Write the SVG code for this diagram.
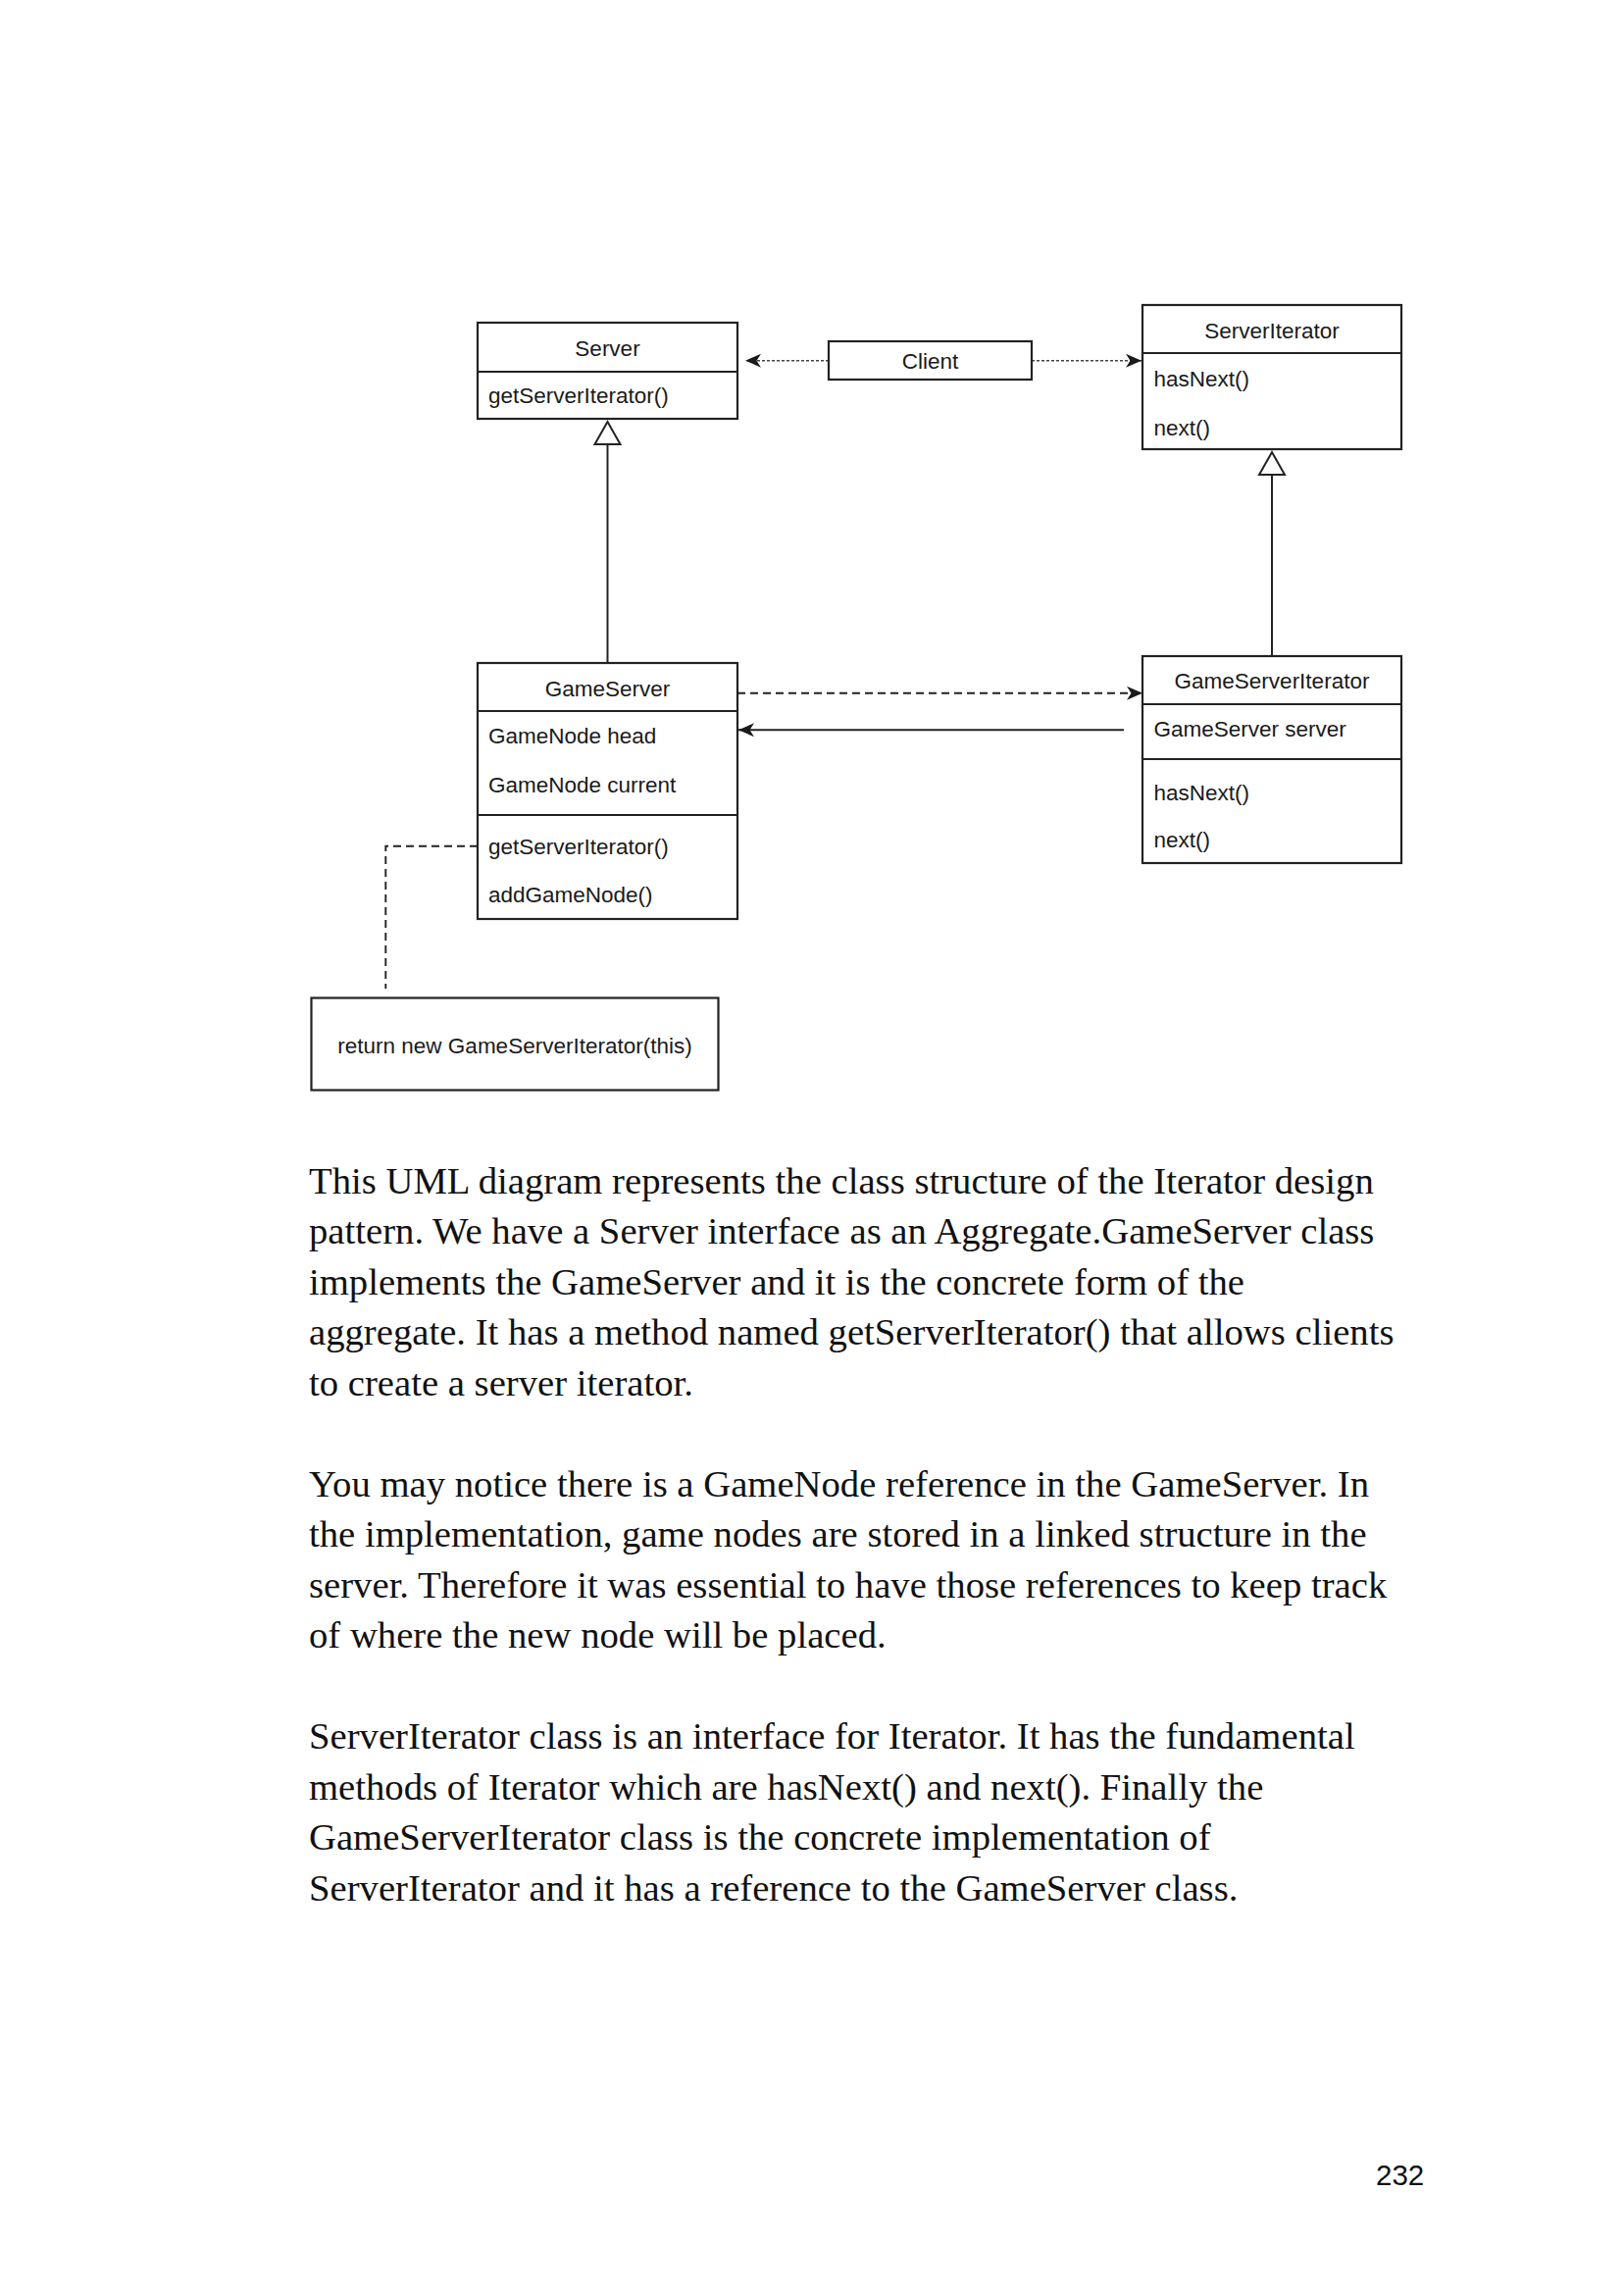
<svg xmlns="http://www.w3.org/2000/svg" width="1656" height="2339" viewBox="0 0 1656 2339">
<style>
.box{fill:#fff;stroke:#222;stroke-width:2.2}
.div{stroke:#222;stroke-width:2.2}
.t{font-family:"Liberation Sans",Arial,Helvetica,sans-serif;font-size:22.5px;fill:#1a1a1a}
.c{text-anchor:middle}
.solid{fill:none;stroke:#222;stroke-width:2}
.dot{fill:none;stroke:#444;stroke-width:1.4;stroke-dasharray:3 2}
.dash{fill:none;stroke:#222;stroke-width:1.9;stroke-dasharray:8 5}
.tri{fill:#fff;stroke:#222;stroke-width:2}
.body{font-family:"Liberation Serif","Times New Roman",serif;font-size:38.7px;fill:#111}
</style>
<defs>
<marker id="arr" markerUnits="userSpaceOnUse" markerWidth="18" markerHeight="16" refX="16" refY="7.5" orient="auto">
<path d="M0,0.5 L16,7.5 L0,14.5 L4.5,7.5 Z" fill="#1a1a1a" stroke="none"/>
</marker>
</defs>
<rect width="1656" height="2339" fill="#fff"/>

<g id="connectors">
<line class="dot" x1="845" y1="367.7" x2="760" y2="367.7" marker-end="url(#arr)"/>
<line class="dot" x1="1052" y1="367.7" x2="1164" y2="367.7" marker-end="url(#arr)"/>
<line class="solid" x1="619.5" y1="453" x2="619.5" y2="676"/>
<polygon class="tri" points="619.5,430 632.5,453 606.5,453"/>
<line class="solid" x1="1297" y1="484" x2="1297" y2="669"/>
<polygon class="tri" points="1297,461 1310,484 1284,484"/>
<line class="dash" x1="752" y1="706.7" x2="1165" y2="706.7" marker-end="url(#arr)"/>
<line class="solid" x1="1146" y1="744.3" x2="753" y2="744.3" marker-end="url(#arr)"/>
<polyline class="dash" points="487,862.7 393.3,862.7 393.3,1008"/>
</g>

<g id="Server">
<rect class="box" x="487" y="329" width="265" height="98"/>
<line class="div" x1="487" y1="379" x2="752" y2="379"/>
<text class="t c" x="619.5" y="363">Server</text>
<text class="t" x="498" y="411">getServerIterator()</text>
</g>

<g id="Client">
<rect class="box" x="845" y="348" width="207" height="39"/>
<text class="t c" x="948.5" y="376">Client</text>
</g>

<g id="ServerIterator">
<rect class="box" x="1165" y="311" width="264" height="147"/>
<line class="div" x1="1165" y1="360" x2="1429" y2="360"/>
<text class="t c" x="1297" y="345">ServerIterator</text>
<text class="t" x="1176.5" y="394">hasNext()</text>
<text class="t" x="1176.5" y="444">next()</text>
</g>

<g id="GameServer">
<rect class="box" x="487" y="676" width="265" height="261"/>
<line class="div" x1="487" y1="725" x2="752" y2="725"/>
<line class="div" x1="487" y1="831" x2="752" y2="831"/>
<text class="t c" x="619.5" y="710">GameServer</text>
<text class="t" x="498" y="758">GameNode head</text>
<text class="t" x="498" y="808">GameNode current</text>
<text class="t" x="498" y="871">getServerIterator()</text>
<text class="t" x="498" y="920">addGameNode()</text>
</g>

<g id="GameServerIterator">
<rect class="box" x="1165" y="669" width="264" height="211"/>
<line class="div" x1="1165" y1="718" x2="1429" y2="718"/>
<line class="div" x1="1165" y1="774" x2="1429" y2="774"/>
<text class="t c" x="1297" y="702">GameServerIterator</text>
<text class="t" x="1176.5" y="751">GameServer server</text>
<text class="t" x="1176.5" y="816">hasNext()</text>
<text class="t" x="1176.5" y="864">next()</text>
</g>

<g id="Note">
<rect class="box" x="317.5" y="1017.5" width="415" height="94"/>
<text class="t c" x="525" y="1074">return new GameServerIterator(this)</text>
</g>

<g id="bodytext">
<text class="body" x="315" y="1216.5">This UML diagram represents the class structure of the Iterator design</text>
<text class="body" x="315" y="1268">pattern. We have a Server interface as an Aggregate.GameServer class</text>
<text class="body" x="315" y="1319.5">implements the GameServer and it is the concrete form of the</text>
<text class="body" x="315" y="1371">aggregate. It has a method named getServerIterator() that allows clients</text>
<text class="body" x="315" y="1422.5">to create a server iterator.</text>
<text class="body" x="315" y="1525.5">You may notice there is a GameNode reference in the GameServer. In</text>
<text class="body" x="315" y="1577">the implementation, game nodes are stored in a linked structure in the</text>
<text class="body" x="315" y="1628.5">server. Therefore it was essential to have those references to keep track</text>
<text class="body" x="315" y="1680">of where the new node will be placed.</text>
<text class="body" x="315" y="1783">ServerIterator class is an interface for Iterator. It has the fundamental</text>
<text class="body" x="315" y="1834.5">methods of Iterator which are hasNext() and next(). Finally the</text>
<text class="body" x="315" y="1886">GameServerIterator class is the concrete implementation of</text>
<text class="body" x="315" y="1937.5">ServerIterator and it has a reference to the GameServer class.</text>
</g>

<text x="1403" y="2228" style="font-family:'Liberation Sans',Arial,sans-serif;font-size:29.5px;fill:#111">232</text>
</svg>
